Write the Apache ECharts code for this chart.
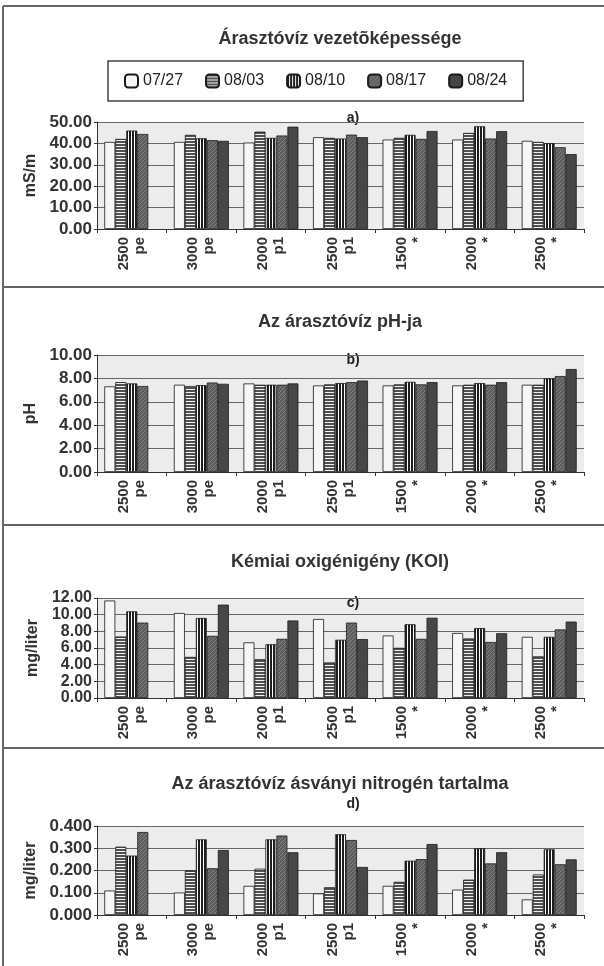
<!DOCTYPE html>
<html>
<head>
<meta charset="utf-8">
<script src="https://cdn.jsdelivr.net/npm/echarts@6/dist/echarts.min.js"></script>
<style>
  html, body { margin: 0; padding: 0; background: #ffffff; }
  #chart { width: 604px; height: 966px; }
</style>
</head>
<body>
<div id="chart"></div>
<script>
// Treatments (dose / variant) along the x axis and sampling dates as series
const categories = ['2500\npe', '3000\npe', '2000\np1', '2500\np1', '1500\n*', '2000\n*', '2500\n*'];
const dates = ['07/27', '08/03', '08/10', '08/17', '08/24'];

// a) conductivity, mS/m  (one row per sampling date)
const conductivity = [
  [40.7, 40.7, 40.4, 42.9, 41.8, 41.8, 41.2],
  [42.1, 44.0, 45.5, 42.6, 42.6, 44.9, 40.7],
  [46.0, 42.4, 42.6, 42.3, 44.0, 48.0, 40.1],
  [44.4, 41.5, 43.7, 44.1, 42.1, 42.3, 38.2],
  [null, 41.2, 47.8, 42.9, 45.8, 45.7, 35.0]
];

// b) pH
const ph = [
  [7.32, 7.46, 7.57, 7.40, 7.40, 7.40, 7.46],
  [7.68, 7.35, 7.46, 7.49, 7.49, 7.46, 7.46],
  [7.57, 7.43, 7.46, 7.60, 7.71, 7.60, 8.00],
  [7.35, 7.65, 7.46, 7.68, 7.49, 7.46, 8.20],
  [null, 7.54, 7.57, 7.82, 7.68, 7.68, 8.80]
];

// c) chemical oxygen demand, mg/liter
const cod = [
  [11.70, 10.20, 6.68, 9.48, 7.50, 7.80, 7.34],
  [7.38, 4.93, 4.66, 4.27, 6.02, 7.15, 5.00],
  [10.40, 9.60, 6.45, 6.99, 8.85, 8.39, 7.34],
  [9.05, 7.46, 7.10, 9.05, 7.10, 6.72, 8.23],
  [null, 11.20, 9.30, 7.07, 9.63, 7.77, 9.17]
];

// d) mineral nitrogen, mg/liter
const nitrogen = [
  [0.110, 0.101, 0.131, 0.097, 0.131, 0.114, 0.070],
  [0.307, 0.200, 0.208, 0.125, 0.149, 0.159, 0.182],
  [0.267, 0.340, 0.340, 0.363, 0.244, 0.300, 0.295],
  [0.373, 0.210, 0.357, 0.337, 0.251, 0.232, 0.228],
  [null, 0.292, 0.282, 0.216, 0.319, 0.282, 0.250]
];

const panelTitles = [
  'Árasztóvíz vezetõképessége',
  'Az árasztóvíz pH-ja',
  'Kémiai oxigénigény (KOI)',
  'Az árasztóvíz ásványi nitrogén tartalma'
];
const panelTags = ['a)', 'b)', 'c)', 'd)'];
const axisNames = ['mS/m', 'pH', 'mg/liter', 'mg/liter'];
const axisMax = [50, 10, 12, 0.4];
const axisStep = [10, 2, 2, 0.1];
const axisDecimals = [2, 2, 2, 3];

const FONT = '"Liberation Sans", Arial, sans-serif';

// Monochrome fill patterns, one per sampling date
function makePattern(kind) {
  const c = document.createElement('canvas');
  const g = c.getContext('2d');
  if (kind === 'plain') {
    c.width = 4; c.height = 4;
    g.fillStyle = '#f6f6f6'; g.fillRect(0, 0, 4, 4);
  } else if (kind === 'hstripe') {
    c.width = 4; c.height = 3;
    g.fillStyle = '#f2f2f2'; g.fillRect(0, 0, 4, 3);
    g.fillStyle = '#505050'; g.fillRect(0, 0, 4, 2);
  } else if (kind === 'vstripe') {
    c.width = 3; c.height = 4;
    g.fillStyle = '#ffffff'; g.fillRect(0, 0, 3, 4);
    g.fillStyle = '#1e1e1e'; g.fillRect(0, 0, 2, 4);
  } else if (kind === 'hatch') {
    c.width = 4; c.height = 4;
    g.fillStyle = '#5e5e5e'; g.fillRect(0, 0, 4, 4);
    g.fillStyle = '#808080';
    for (let i = 0; i < 4; i++) g.fillRect(i, 3 - i, 1, 1);
  } else {
    c.width = 4; c.height = 4;
    g.fillStyle = '#474747'; g.fillRect(0, 0, 4, 4);
  }
  return { image: c, repeat: 'repeat' };
}
const fills = ['plain', 'hstripe', 'vstripe', 'hatch', 'solid'].map(makePattern);

const panelData = [conductivity, ph, cod, nitrogen];

// Plot rectangles of the four stacked panels
const gridBoxes = [
  { top: 122, height: 107, labelSize: 17 },
  { top: 355, height: 117, labelSize: 17 },
  { top: 598, height: 100, labelSize: 16 },
  { top: 826, height: 89, labelSize: 17 }
];
const titleY = [39, 322, 562, 784];
const tagY = [118, 360, 603, 804];
const frameY = [6, 287, 525, 748];

const grids = gridBoxes.map(b => ({
  left: 97, width: 487, top: b.top, height: b.height,
  show: true, backgroundColor: '#ececec', borderWidth: 0
}));

const xAxes = gridBoxes.map((b, i) => ({
  type: 'category', gridIndex: i, data: categories,
  axisLine: { lineStyle: { color: '#333', width: 1 } },
  axisTick: { show: true, alignWithLabel: false, length: 4, lineStyle: { color: '#333' } },
  axisLabel: {
    rotate: 90, interval: 0, margin: 8,
    fontFamily: FONT, fontSize: 15, fontWeight: 'bold', color: '#333', lineHeight: 16
  }
}));

const yAxes = gridBoxes.map((b, i) => ({
  type: 'value', gridIndex: i, min: 0, max: axisMax[i], interval: axisStep[i],
  name: axisNames[i], nameLocation: 'middle', nameGap: 52, nameRotate: 90,
  nameTextStyle: { fontFamily: FONT, fontSize: 16, fontWeight: 'bold', color: '#333' },
  axisLine: { show: true, lineStyle: { color: '#333', width: 1 } },
  axisTick: { show: true, length: 3, lineStyle: { color: '#333' } },
  splitLine: { show: true, lineStyle: { color: '#666', width: 1 } },
  axisLabel: {
    fontFamily: FONT, fontSize: b.labelSize, fontWeight: 'bold', color: '#333', margin: 5,
    showMinLabel: true, showMaxLabel: true, hideOverlap: false,
    formatter: v => v.toFixed(axisDecimals[i])
  }
}));

const series = [];
panelData.forEach((rows, p) => {
  rows.forEach((vals, d) => {
    series.push({
      type: 'bar', name: dates[d], xAxisIndex: p, yAxisIndex: p,
      data: vals, barGap: '0%', barCategoryGap: '21%',
      itemStyle: { color: fills[d], borderColor: '#1a1a1a', borderWidth: 0.8 },
      emphasis: { disabled: true },
      animation: false
    });
  });
});

const graphics = [];
// panel frames
graphics.push({ type: 'line', shape: { x1: 3, y1: 6, x2: 3, y2: 966 }, style: { stroke: '#666', lineWidth: 2 } });
frameY.forEach(y => graphics.push({
  type: 'line', shape: { x1: 3, y1: y, x2: 604, y2: y }, style: { stroke: '#666', lineWidth: 2 }
}));
// panel titles and tags
panelTitles.forEach((t, i) => {
  graphics.push({
    type: 'text', x: 340, y: titleY[i],
    style: { text: t, font: 'bold 18px ' + FONT, fill: '#333', textAlign: 'center', textVerticalAlign: 'middle' }
  });
  graphics.push({
    type: 'text', x: 353, y: tagY[i],
    style: { text: panelTags[i], font: 'bold 14px ' + FONT, fill: '#222', textAlign: 'center', textVerticalAlign: 'middle' }
  });
});

const chart = echarts.init(document.getElementById('chart'), null, { renderer: 'canvas' });
chart.setOption({
  animation: false,
  backgroundColor: '#ffffff',
  legend: {
    data: dates, left: 108, top: 61, orient: 'horizontal',
    itemWidth: 13, itemHeight: 13, itemGap: 22,
    padding: [12, 16, 12, 16],
    borderColor: '#444', borderWidth: 1.5,
    textStyle: { fontFamily: FONT, fontSize: 16, color: '#222' },
    selectedMode: false
  },
  grid: grids,
  xAxis: xAxes,
  yAxis: yAxes,
  series: series,
  graphic: graphics
});
</script>
</body>
</html>
